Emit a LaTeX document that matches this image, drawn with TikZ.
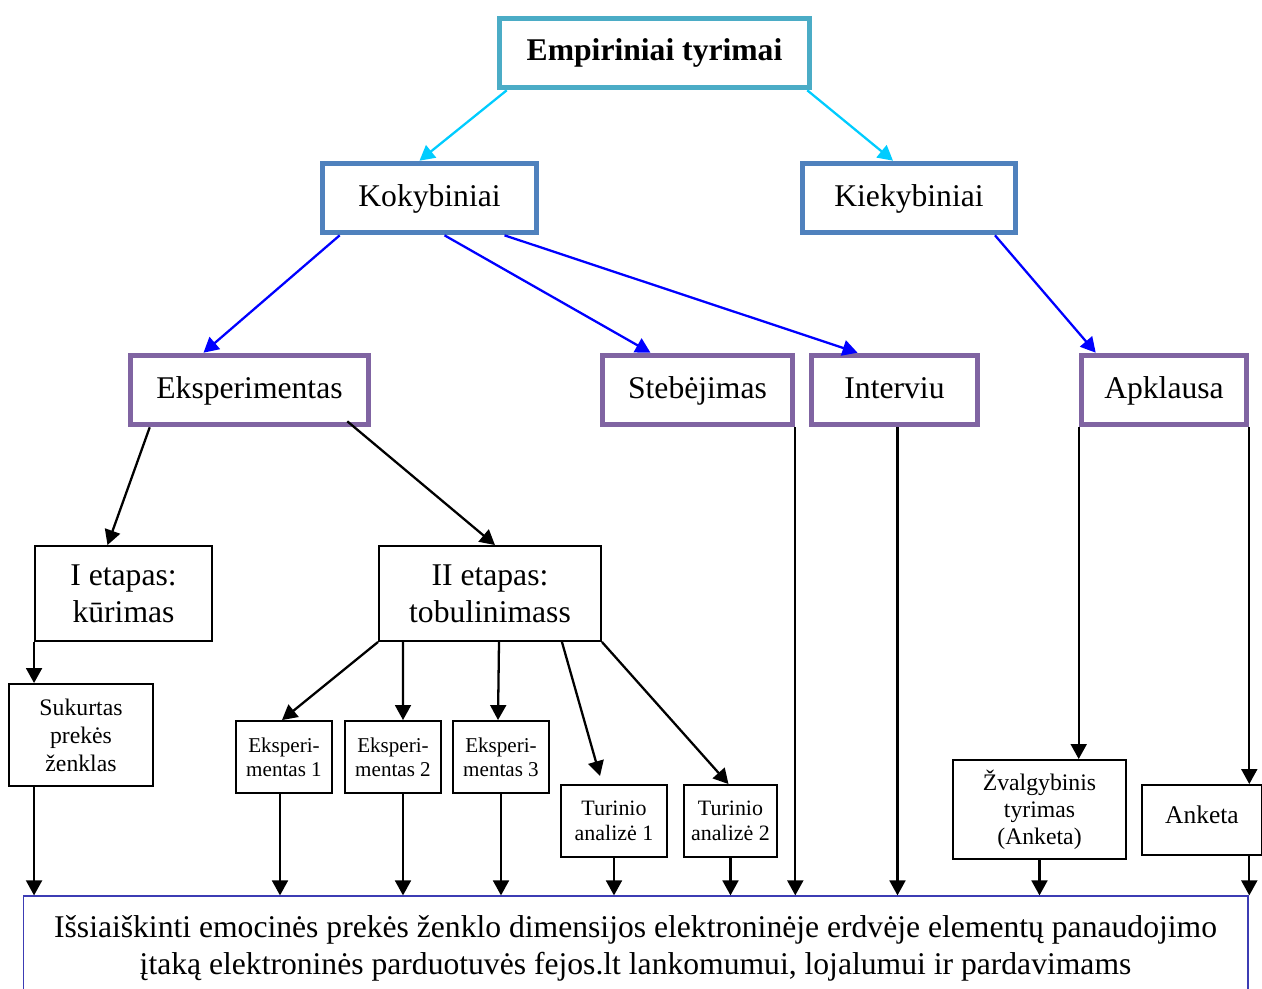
\documentclass[tikz,border=0pt]{standalone}
\usepackage{fontspec}
\setmainfont{Liberation Serif}
\usetikzlibrary{arrows.meta,calc}
\definecolor{topline}{HTML}{4BACC6}
\definecolor{midline}{HTML}{4F81BD}
\definecolor{methline}{HTML}{8064A2}
\definecolor{goalline}{HTML}{3C3CB4}
\definecolor{toparrow}{HTML}{00CCFF}
\definecolor{midarrow}{HTML}{0000FF}
\begin{document}
\begin{tikzpicture}
                            [x=0.02cm,y=-0.02cm,
                            big/.style = {font=\fontsize{18}{21}\selectfont},
                            topbox/.style = {draw=topline, line width=3.2pt, font=\fontsize{18}{21}\selectfont\bfseries,
                                        minimum width=6.2cm, minimum height=1.38cm},
                            midbox/.style = {draw=midline, line width=3.2pt, big, text depth=0.25em, minimum height=1.38cm},
                            methbox/.style = {draw=methline, line width=3.2pt, big, text depth=0.25em, minimum height=1.38cm},
                            stagebox/.style = {draw, line width=1.1pt, align=center, inner sep=1pt},
                            arr/.style = {line width=1.3pt, -{Triangle[length=8.5pt,width=9pt]}}]
                            \useasboundingbox (0,0) rectangle (1262,988);
                            % Pagrindinis
                            \node[topbox] (top) at (654.5,53) {Empiriniai tyrimai};
                            % Kokybiniai ir kiekybiniai
                            \node[midbox,minimum width=4.28cm] (kok) at (429.5,198) {Kokybiniai};
                            \node[midbox,minimum width=4.26cm] (kiek) at (909,198) {Kiekybiniai};
                            % Metodai
                            \node[methbox,minimum width=4.76cm] (eks) at (249.5,390) {Eksperimentas};
                            \node[methbox,minimum width=3.8cm] (stb) at (697.5,390) {Stebėjimas};
                            \node[methbox,minimum width=3.32cm] (intv) at (894.5,390) {Interviu};
                            \node[methbox,minimum width=3.3cm] (apk) at (1164,390) {Apklausa};
                            % Etapai
                            \node[stagebox,big,minimum width=3.54cm,minimum height=1.9cm] (et1) at (123.5,593.5) {I etapas:\\kūrimas};
                            \node[stagebox,big,minimum width=4.44cm,minimum height=1.9cm] (et2) at (490,593.5) {II etapas:\\tobulinimass};
                            % Smulkūs
                            \node[stagebox,font=\fontsize{13.5}{16}\selectfont,minimum width=2.88cm,minimum height=2.04cm] (suk) at (81,735) {Sukurtas\\prekės\\ženklas};
                            \node[stagebox,font=\fontsize{12}{13.7}\selectfont,minimum width=1.92cm,minimum height=1.44cm] (ex1) at (284,757) {Eksperi-\\mentas 1};
                            \node[stagebox,font=\fontsize{12}{13.7}\selectfont,minimum width=1.92cm,minimum height=1.44cm] (ex2) at (393,757) {Eksperi-\\mentas 2};
                            \node[stagebox,font=\fontsize{12}{13.7}\selectfont,minimum width=1.92cm,minimum height=1.44cm] (ex3) at (501,757) {Eksperi-\\mentas 3};
                            \node[stagebox,font=\fontsize{12.5}{14.2}\selectfont,minimum width=2.12cm,minimum height=1.44cm] (tu1) at (614,821) {Turinio\\analizė 1};
                            \node[stagebox,font=\fontsize{12.5}{14.2}\selectfont,minimum width=1.86cm,minimum height=1.44cm] (tu2) at (730.5,821) {Turinio\\analizė 2};
                            \node[stagebox,font=\fontsize{13.5}{15.4}\selectfont,minimum width=3.46cm,minimum height=1.98cm] (zv) at (1039.5,809.5) {Žvalgybinis\\tyrimas\\(Anketa)};
                            \node[stagebox,font=\fontsize{14.5}{17}\selectfont,minimum width=2.4cm,minimum height=1.4cm,text depth=0.6em] (ank) at (1202,820) {Anketa};
                            % Tikslas
                            \node[draw=goalline,line width=0.7pt,big,align=center,minimum width=24.5cm,minimum height=2.08cm] (goal) at (635.5,948)
                                {Išsiaiškinti emocinės prekės ženklo dimensijos elektroninėje erdvėje elementų panaudojimo\\įtaką elektroninės parduotuvės fejos.lt lankomumui, lojalumui ir pardavimams};
                            % Rodyklės
                            \draw[arr,toparrow] ($(top.south west)+(10,0)$) -- ($(kok.north)+(-10,0)$);
                            \draw[arr,toparrow] ($(top.south east)+(-5,0)$) -- ($(kiek.north)+(-16,0)$);
                            \draw[arr,midarrow] ($(kok.south west)+(20,0)$) -- ($(eks.north)+(-46,0)$);
                            \draw[arr,midarrow] ($(kok.south)+(15,0)$) -- ($(stb.north)+(-47,0)$);
                            \draw[arr,midarrow] ($(kok.south)+(75,0)$) -- ($(intv.north)+(-37,0)$);
                            \draw[arr,midarrow] ($(kiek.south)+(86,0)$) -- ($(apk.north west)+(17,0)$);
                            \draw[arr] ($(eks.south west)+(22,0)$) -- ($(et1.north)+(-16,0)$);
                            \draw[arr] ($(eks.south east)+(-24,-6)$) -- ($(et2.north)+(5,0)$);
                            \draw[arr] (et1.south west) -- (et1.south west |- suk.north);
                            \draw[arr] (et2.south west) -- ($(ex1.north)+(-2,0)$);
                            \draw[arr] ($(et2.south west)+(25,0)$) -- ($(ex2.north)+(10,0)$);
                            \draw[arr] ($(et2.south)+(9,0)$) -- ($(ex3.north)+(-3,0)$);
                            \draw[arr] ($(et2.south east)+(-40,0)$) -- ($(tu1.north)+(-14,-8)$);
                            \draw[arr] (et2.south east) -- ($(tu2.north)+(-2,0)$);
                            \draw[arr] (stb.south east) -- (stb.south east |- goal.north);
                            \draw[arr] ($(intv.south)+(3,0)$) -- ($(intv.south |- goal.north)+(3,0)$);
                            \draw[arr] (apk.south west) -- (apk.south west |- zv.north);
                            \draw[arr] (apk.south east) -- (apk.south east |- ank.north);
                            \draw[arr] (et1.south west |- suk.south) -- (et1.south west |- goal.north);
                            \draw[arr] ($(ex1.south)+(-4,0)$) -- ($(ex1.south |- goal.north)+(-4,0)$);
                            \draw[arr] ($(ex2.south)+(10,0)$) -- ($(ex2.south |- goal.north)+(10,0)$);
                            \foreach \n in {ex3,tu1,tu2,zv}
                                \draw[arr] (\n.south) -- (\n.south |- goal.north);
                            \draw[arr] (apk.south east |- ank.south) -- (apk.south east |- goal.north);
                        \end{tikzpicture}
\end{document}
